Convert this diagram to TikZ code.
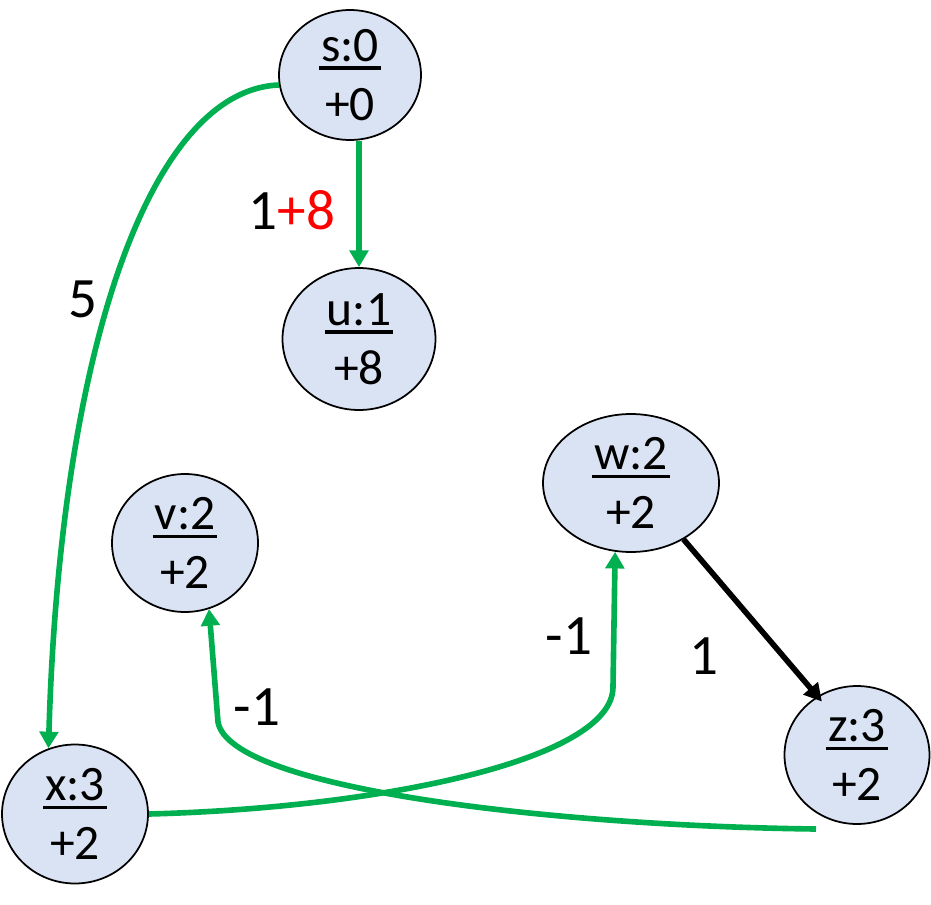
\documentclass[tikz,border=0pt]{standalone}
\usepackage{fontspec}
\setmainfont{Carlito}
\usetikzlibrary{arrows.meta,shapes.geometric}
\definecolor{nodeblue}{HTML}{DAE3F3}
\definecolor{treegreen}{HTML}{00B050}
\tikzset{
	vertex/.style={ellipse, draw=black, line width=1pt, fill=nodeblue, inner sep=0pt, align=center, font=\fontsize{28.2}{33.5}\selectfont},
	treeedge/.style={draw=treegreen, line width=3.2pt, -{Triangle[width=10.5pt,length=9.5pt]}},
	plainedge/.style={draw=black, line width=3.2pt, -{Triangle[width=10.5pt,length=10pt]}},
	weight/.style={font=\fontsize{32.5}{40}\selectfont}
}
\newcommand{\uline}[1]{\setbox0\hbox{#1}\rlap{\hspace{-1pt}\rule[-4.75pt]{\dimexpr\wd0+2pt\relax}{1.9pt}}\box0}
\newcommand{\vtext}[2]{\uline{#1}\\#2}

\begin{document}
\begin{tikzpicture}[x=0.02cm, y=-0.02cm]
		%%%%% START %%%%%
		\useasboundingbox (0, 0) rectangle (931, 904);
		
		\node[vertex, minimum width=2.84cm, minimum height=2.6cm] (s) at (350, 75) {\vtext{s:0}{+0}};
		\node[vertex, minimum width=3.06cm, minimum height=2.84cm] (u) at (359, 339) {\vtext{u:1}{+8}};
		\node[vertex, minimum width=3.52cm, minimum height=2.76cm] (w) at (631, 483) {\vtext{w:2}{+2}};
		\node[vertex, minimum width=2.92cm, minimum height=2.76cm] (v) at (185, 543) {\vtext{v:2}{+2}};
		\node[vertex, minimum width=2.9cm, minimum height=2.76cm] (z) at (857, 755) {\vtext{z:3}{+2}};
		\node[vertex, minimum width=2.92cm, minimum height=2.78cm] (x) at (75, 814) {\vtext{x:3}{+2}};
		\coordinate (zfoot) at (816, 829);
		
		\draw[treeedge] (u.north |- s.south) -- (u.north);
		\draw[treeedge] (s.188) .. controls (150, 90) and (60, 350) .. (x.112);
		\draw[treeedge] (x.east) .. controls (380, 808) and (613, 760) .. (613, 687) -- (w.257);
		\draw[treeedge] (zfoot) .. controls (560, 826) and (230, 790) .. (218, 722) -- (v.290);
		\draw[plainedge, shorten >=-4pt] (w.313) -- (z.124);
		
		\node[weight] (w1) at (292, 210) {1\textcolor{red}{+8}};
		\node[weight] (w2) at (83, 299) {5};
		\node[weight] (w3) at (257, 707) {-1};
		\node[weight] (w4) at (569, 636) {-1};
		\node[weight] (w5) at (704, 656) {1};
		%%%%% END %%%%%
	\end{tikzpicture}
\end{document}
